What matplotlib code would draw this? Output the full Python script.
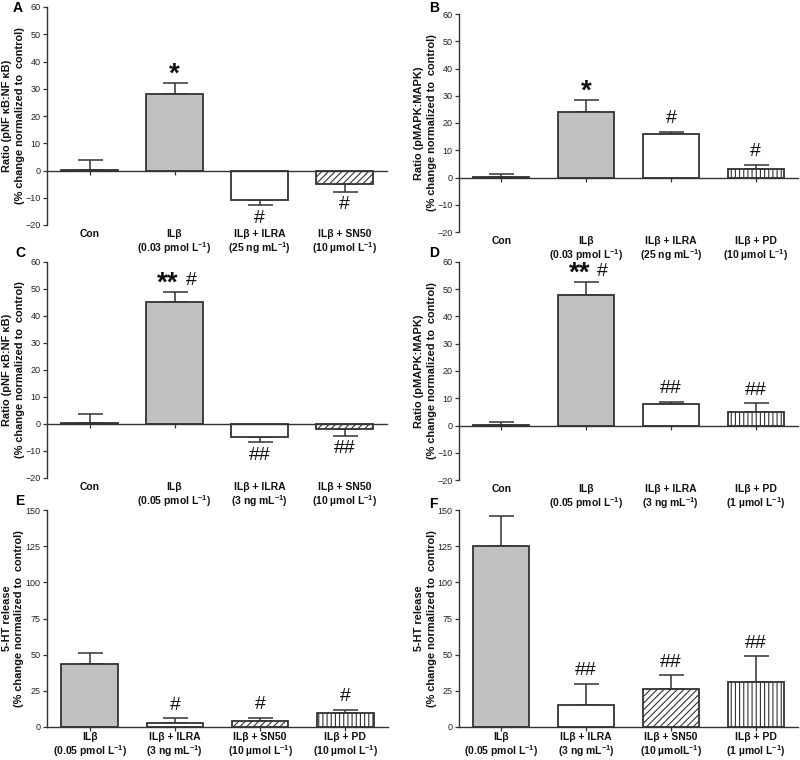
import numpy as np
import matplotlib
matplotlib.use("Agg")
import matplotlib.pyplot as plt

plt.rcParams['font.family'] = ['Liberation Sans', 'DejaVu Sans']
plt.rcParams['mathtext.fontset'] = 'custom'
plt.rcParams['mathtext.rm'] = 'Liberation Sans:bold'
plt.rcParams['mathtext.it'] = 'Liberation Sans:bold'
plt.rcParams['mathtext.bf'] = 'Liberation Sans:bold'
plt.rcParams['hatch.linewidth'] = 0.8

# ---- data ----
treat_a = ["Con", "ILβ", "ILβ + ILRA", "ILβ + SN50"]
dose_a = ["", "(0.03 pmol L$^{-1}$)", "(25 ng mL$^{-1}$)", "(10 µmol L$^{-1}$)"]
mean_a = [0.3, 28, -11, -5]
sem_a = [3.4, 4, 1.8, 3]
marks_a = ["", "*", "#", "#"]

treat_b = ["Con", "ILβ", "ILβ + ILRA", "ILβ + PD"]
dose_b = ["", "(0.03 pmol L$^{-1}$)", "(25 ng mL$^{-1}$)", "(10 µmol L$^{-1}$)"]
mean_b = [0.2, 24, 16, 3]
sem_b = [1.1, 4.5, 0.8, 1.7]
marks_b = ["", "*", "#", "#"]

treat_c = ["Con", "ILβ", "ILβ + ILRA", "ILβ + SN50"]
dose_c = ["", "(0.05 pmol L$^{-1}$)", "(3 ng mL$^{-1}$)", "(10 µmol L$^{-1}$)"]
mean_c = [0.3, 45, -5, -2]
sem_c = [3.4, 4, 1.8, 2.5]
marks_c = ["", "** #", "##", "##"]

treat_d = ["Con", "ILβ", "ILβ + ILRA", "ILβ + PD"]
dose_d = ["", "(0.05 pmol L$^{-1}$)", "(3 ng mL$^{-1}$)", "(1 µmol L$^{-1}$)"]
mean_d = [0.3, 48, 8, 5]
sem_d = [1.0, 4.5, 0.8, 3.2]
marks_d = ["", "** #", "##", "##"]

treat_e = ["ILβ", "ILβ + ILRA", "ILβ + SN50", "ILβ + PD"]
dose_e = ["(0.05 pmol L$^{-1}$)", "(3 ng mL$^{-1}$)", "(10 µmol L$^{-1}$)", "(10 µmol L$^{-1}$)"]
mean_e = [43.5, 3, 4, 10]
sem_e = [7.5, 3, 2.5, 2]
marks_e = ["", "#", "#", "#"]

treat_f = ["ILβ", "ILβ + ILRA", "ILβ + SN50", "ILβ + PD"]
dose_f = ["(0.05 pmol L$^{-1}$)", "(3 ng mL$^{-1}$)", "(10 µmolL$^{-1}$)", "(1 µmol L$^{-1}$)"]
mean_f = [125, 15, 26, 31]
sem_f = [21, 15, 10, 18]
marks_f = ["", "##", "##", "##"]

ylab_nfkb = "Ratio (pNF κB:NF κB)\n(% change normalized to  control)"
ylab_mapk = "Ratio (pMAPK:MAPK)\n(% change normalized to  control)"
ylab_5ht = "5-HT release\n(% change normalized to  control)"

# ---- style ----
EDGE = "#333333"
STYLE = {
    "Con": ("white", ""),
    "ILβ": ("#c1c1c1", ""),
    "ILβ + ILRA": ("white", ""),
    "ILβ + SN50": ("white", "/////"),
    "ILβ + PD": ("white", "||||"),
}


def draw_panel(ax, treat, dose, mean, sem, marks, ylim, yticks, ylabel, lab_off):
    x = np.arange(len(treat))
    for i in x:
        fc, hatch = STYLE[treat[i]]
        ax.bar(i, mean[i], width=0.66, color=fc, hatch=hatch,
               edgecolor=EDGE, linewidth=1.3, zorder=2)
    up = [s if m >= 0 else 0 for m, s in zip(mean, sem)]
    dn = [s if m < 0 else 0 for m, s in zip(mean, sem)]
    ax.errorbar(x, mean, yerr=[dn, up], fmt='none', ecolor=EDGE,
                elinewidth=1.1, capsize=9, capthick=1.1, zorder=1)

    for i in x:
        mk = marks[i]
        if not mk:
            continue
        pos = mean[i] >= 0
        yv = mean[i] + up[i] if pos else mean[i] - dn[i]
        stars = mk.replace('#', '').strip()
        hashes = mk.replace('*', '').strip()
        if stars and hashes:
            ax.annotate(stars, (i, yv), xytext=(3, 1), textcoords='offset points',
                        ha='right', va='baseline', fontsize=20, fontweight='bold', color='#111111')
            ax.annotate(hashes, (i, yv), xytext=(8, 4.5), textcoords='offset points',
                        ha='left', va='baseline', fontsize=14, color='#111111')
        elif stars:
            ax.annotate(stars, (i, yv), xytext=(0, 1), textcoords='offset points',
                        ha='center', va='baseline', fontsize=20, fontweight='bold', color='#111111')
        elif pos:
            ax.annotate(hashes, (i, yv), xytext=(0, 6), textcoords='offset points',
                        ha='center', va='baseline', fontsize=14, color='#111111')
        else:
            ax.annotate(hashes, (i, yv), xytext=(0, -3), textcoords='offset points',
                        ha='center', va='top', fontsize=14, color='#111111')

    for i in x:
        txt = treat[i] if not dose[i] else treat[i] + "\n" + dose[i]
        ax.annotate(txt, (i, 0), xycoords=('data', 'axes fraction'),
                    xytext=(0, lab_off), textcoords='offset points',
                    ha='center', va='top', fontsize=7.5, fontweight='bold',
                    linespacing=1.1, color='#111111')

    ax.set_xlim(-0.5, 3.5)
    ax.set_ylim(*ylim)
    ax.set_yticks(yticks)
    ax.set_xticks(x)
    ax.set_xticklabels([])
    ax.spines['top'].set_visible(False)
    ax.spines['right'].set_visible(False)
    ax.spines['bottom'].set_position(('data', 0))
    for s in ('left', 'bottom'):
        ax.spines[s].set_color(EDGE)
        ax.spines[s].set_linewidth(1.0)
    ax.tick_params(axis='y', length=3, width=0.9, color=EDGE, labelsize=6.5,
                   labelcolor='#222222', pad=1.5)
    ax.tick_params(axis='x', length=3, width=0.9, color=EDGE)
    ax.set_ylabel(ylabel, fontsize=7.9, fontweight='bold', linespacing=1.3,
                  color='#111111')
    ax.yaxis.set_label_coords(-0.066, 0.5)


fig = plt.figure(figsize=(8, 7.6), dpi=100)

W, H = 800.0, 760.0


def add_ax(left, top, right, bottom):
    return fig.add_axes([left / W, 1 - bottom / H, (right - left) / W, (bottom - top) / H])


ax_a = add_ax(47, 7, 387, 225)
ax_b = add_ax(459, 14, 798, 232)
ax_c = add_ax(47, 262, 387, 478)
ax_d = add_ax(459, 262, 798, 480)
ax_e = add_ax(47, 510, 388, 727)
ax_f = add_ax(459, 510, 798, 727)

draw_panel(ax_a, treat_a, dose_a, mean_a, sem_a, marks_a, (-20, 60), range(-20, 61, 10), ylab_nfkb, -3)
draw_panel(ax_b, treat_b, dose_b, mean_b, sem_b, marks_b, (-20, 60), range(-20, 61, 10), ylab_mapk, -3)
draw_panel(ax_c, treat_c, dose_c, mean_c, sem_c, marks_c, (-20, 60), range(-20, 61, 10), ylab_nfkb, -3)
draw_panel(ax_d, treat_d, dose_d, mean_d, sem_d, marks_d, (-20, 60), range(-20, 61, 10), ylab_mapk, -3)
draw_panel(ax_e, treat_e, dose_e, mean_e, sem_e, marks_e, (0, 150), range(0, 151, 25), ylab_5ht, -3.5)
draw_panel(ax_f, treat_f, dose_f, mean_f, sem_f, marks_f, (0, 150), range(0, 151, 25), ylab_5ht, -3.5)

for letter, px, py in [("A", 13, 1), ("B", 429, 1), ("C", 15, 246), ("D", 429, 246),
                       ("E", 15, 494), ("F", 429, 497)]:
    fig.text(px / W, 1 - py / H, letter, fontsize=10, fontweight='bold', va='top', ha='left')

fig.savefig("out.png", dpi=100)
